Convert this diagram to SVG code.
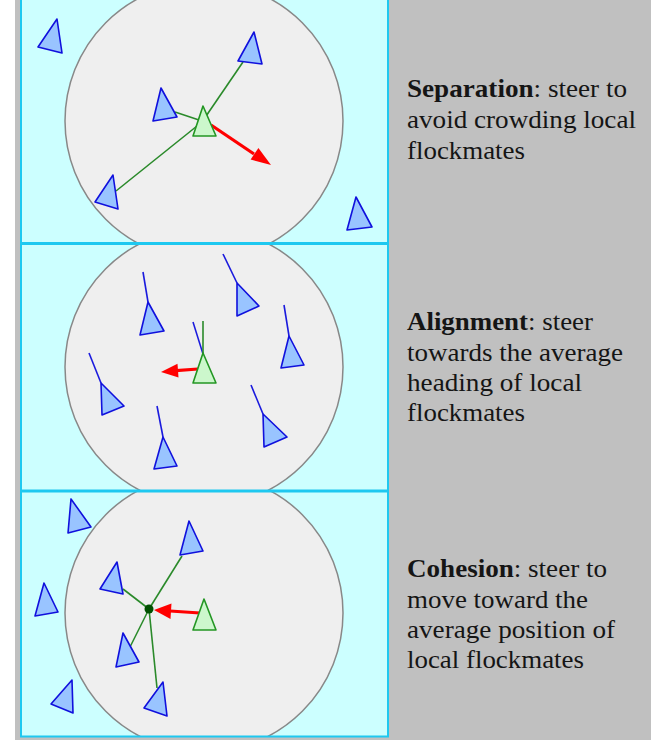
<svg xmlns="http://www.w3.org/2000/svg" width="652" height="740" viewBox="0 0 652 740">
<style>
.frame{fill:#c0c0c0}
.panel{fill:#ccffff}
.bord{stroke:#1ec8f0;fill:none}
.zone{fill:#efefef;stroke:#888;stroke-width:1.5}
.boid{fill:#99c4ff;stroke:#1010dd;stroke-width:1.6;stroke-linejoin:round}
.me{fill:#ccf7cc;stroke:#239623;stroke-width:1.6;stroke-linejoin:round}
.gl{stroke:#2a8a2a;stroke-width:1.6;fill:none}
.bl{stroke:#1a1add;stroke-width:1.6;fill:none}
.rl{stroke:#ff0000;stroke-width:3.2;fill:none}
.rh{fill:#ff0000}
.t{font-family:"Liberation Serif","Times New Roman",serif;font-size:25px;fill:#151515}
.b{font-weight:bold}
</style>
<defs>
<clipPath id="c1"><rect x="20" y="0" width="369" height="243"/></clipPath>
<clipPath id="c2"><rect x="20" y="244" width="369" height="246"/></clipPath>
<clipPath id="c3"><rect x="20" y="491" width="369" height="245"/></clipPath>
</defs>
<rect x="0" y="0" width="652" height="740" fill="#ffffff"/>
<rect class="frame" x="15" y="0" width="636" height="740"/>
<rect class="panel" x="20" y="0" width="369" height="737"/>

<g id="panel-separation">
<circle class="zone" cx="204" cy="121" r="139" clip-path="url(#c1)"/>
</g>
<g id="panel-alignment">
<circle class="zone" cx="204" cy="367" r="139" clip-path="url(#c2)"/>
</g>
<g id="panel-cohesion">
<circle class="zone" cx="204" cy="613" r="139" clip-path="url(#c3)"/>
</g>

<g id="borders">
<line class="bord" x1="21" y1="0" x2="21" y2="737" stroke-width="2"/>
<line class="bord" x1="388" y1="0" x2="388" y2="737" stroke-width="2"/>
<line class="bord" x1="20" y1="243.5" x2="389" y2="243.5" stroke-width="3"/>
<line class="bord" x1="20" y1="491" x2="389" y2="491" stroke-width="3"/>
<line class="bord" x1="20" y1="736.5" x2="389" y2="736.5" stroke-width="2"/>
</g>

<g id="connectors">
<!-- separation -->
<line class="gl" x1="202" y1="121" x2="175" y2="112"/>
<line class="gl" x1="202" y1="122" x2="116" y2="191"/>
<line class="gl" x1="202" y1="122" x2="243" y2="62"/>
<line class="rl" x1="211" y1="125" x2="254" y2="154"/>
<polygon class="rh" points="271,165 250.6,159.6 258.4,148"/>
<!-- alignment -->
<line class="bl" x1="143" y1="272" x2="148" y2="302"/>
<line class="bl" x1="89" y1="353" x2="101" y2="383"/>
<line class="bl" x1="157" y1="406" x2="163" y2="437"/>
<line class="bl" x1="223" y1="254" x2="237" y2="283"/>
<line class="bl" x1="284" y1="305" x2="289" y2="336"/>
<line class="bl" x1="251" y1="385" x2="263" y2="414"/>
<line class="bl" x1="193" y1="322" x2="203" y2="354"/>
<line class="gl" x1="203" y1="321" x2="203" y2="354"/>
<line class="rl" x1="198" y1="369" x2="176" y2="370.7"/>
<polygon class="rh" points="161,372 178.5,377.5 177.5,363.8"/>
<!-- cohesion -->
<line class="gl" x1="149" y1="609" x2="123" y2="589"/>
<line class="gl" x1="149" y1="609" x2="182" y2="556"/>
<line class="gl" x1="149" y1="609" x2="130" y2="647"/>
<line class="gl" x1="149" y1="609" x2="157" y2="688"/>
<line class="rl" x1="200" y1="613" x2="170" y2="611"/>
<polygon class="rh" points="154,610 171.5,603.5 170.5,619"/>
<circle cx="149" cy="609" r="4.5" fill="#005000"/>
</g>

<g id="boids-separation">
<polygon class="boid" points="57,19 38,47 62,53"/>
<polygon class="boid" points="161,88 153,121 177,117"/>
<polygon class="boid" points="113,175 95,202 118,209"/>
<polygon class="boid" points="254,32 238,61 262,64"/>
<polygon class="boid" points="356,197 347,230 372,227"/>
<polygon class="me" points="203,106 193,136 216,136"/>
</g>
<g id="boids-alignment">
<polygon class="boid" points="148,302 140,335 164,331"/>
<polygon class="boid" points="101,383 102,415 124,406"/>
<polygon class="boid" points="163,437 154,469 177,466"/>
<polygon class="boid" points="237,283 237,316 259,306"/>
<polygon class="boid" points="289,336 281,368 304,365"/>
<polygon class="boid" points="263,414 264,447 287,437"/>
<polygon class="me" points="203,353 193,383 216,383"/>
</g>
<g id="boids-cohesion">
<polygon class="boid" points="71,499 68,533 91,527"/>
<polygon class="boid" points="44,583 35,616 58,612"/>
<polygon class="boid" points="72,680 51,704 73,713"/>
<polygon class="boid" points="117,562 100,589 123,594"/>
<polygon class="boid" points="123,633 116,667 139,662"/>
<polygon class="boid" points="163,682 144,708 167,716"/>
<polygon class="boid" points="189,521 180,555 203,551"/>
<polygon class="me" points="204,599 193,630 216,630"/>
</g>

<g id="text-separation">
<text class="t" x="407" y="97" textLength="220" lengthAdjust="spacingAndGlyphs"><tspan class="b">Separation</tspan>: steer to</text>
<text class="t" x="407" y="128" textLength="229" lengthAdjust="spacingAndGlyphs">avoid crowding local</text>
<text class="t" x="407" y="159" textLength="118" lengthAdjust="spacingAndGlyphs">flockmates</text>
</g>
<g id="text-alignment">
<text class="t" x="407" y="330" textLength="186" lengthAdjust="spacingAndGlyphs"><tspan class="b">Alignment</tspan>: steer</text>
<text class="t" x="407" y="361" textLength="216" lengthAdjust="spacingAndGlyphs">towards the average</text>
<text class="t" x="407" y="391" textLength="175" lengthAdjust="spacingAndGlyphs">heading of local</text>
<text class="t" x="407" y="421" textLength="118" lengthAdjust="spacingAndGlyphs">flockmates</text>
</g>
<g id="text-cohesion">
<text class="t" x="407" y="577" textLength="200" lengthAdjust="spacingAndGlyphs"><tspan class="b">Cohesion</tspan>: steer to</text>
<text class="t" x="407" y="608" textLength="181" lengthAdjust="spacingAndGlyphs">move toward the</text>
<text class="t" x="407" y="638" textLength="208" lengthAdjust="spacingAndGlyphs">average position of</text>
<text class="t" x="407" y="668" textLength="177" lengthAdjust="spacingAndGlyphs">local flockmates</text>
</g>
</svg>
